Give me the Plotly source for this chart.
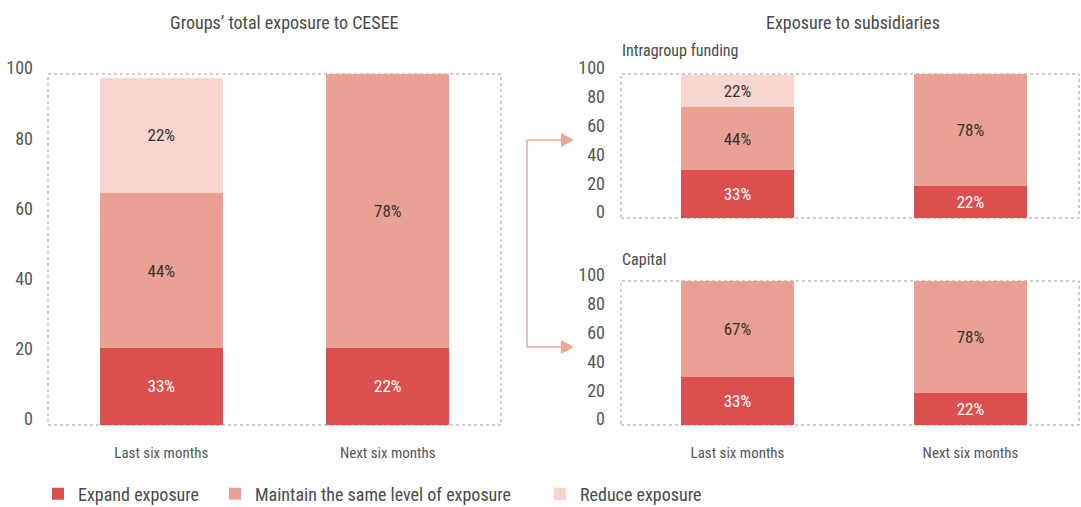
import plotly.graph_objects as go

W, H = 1081, 507

categories = ["Last six months", "Next six months"]
series_names = ["Expand exposure", "Maintain the same level of exposure", "Reduce exposure"]
colors = ["#DC4F4F", "#EAA194", "#F6D6CE"]
text_colors = ["#FFFFFF", "#333333", "#333333"]

# Groups' total exposure to CESEE (bar heights as drawn, labels as printed)
total_expand = [22, 22]
total_maintain = [44, 78]
total_reduce = [33, 0]
total_expand_lbl = ["33%", "22%"]
total_maintain_lbl = ["44%", "78%"]
total_reduce_lbl = ["22%", ""]

# Exposure to subsidiaries: intragroup funding
fund_expand = [33, 22]
fund_maintain = [44, 78]
fund_reduce = [22, 0]
fund_expand_lbl = ["33%", "22%"]
fund_maintain_lbl = ["44%", "78%"]
fund_reduce_lbl = ["22%", ""]

# Exposure to subsidiaries: capital
cap_expand = [33, 22]
cap_maintain = [67, 78]
cap_reduce = [0, 0]
cap_expand_lbl = ["33%", "22%"]
cap_maintain_lbl = ["67%", "78%"]
cap_reduce_lbl = ["", ""]

y_ticks = [0, 20, 40, 60, 80, 100]

FONT = "Roboto Condensed, Liberation Sans Narrow, DejaVu Sans Condensed, sans-serif"
GREY = "#4A4A4A"


def px(x, y):
    return x / W, 1 - y / H


fig = go.Figure()

legend_ids = ["legend", "legend2", "legend3"]
legend_text_x = [78, 255, 580]

panels = [
    ("x", "y", [total_expand, total_maintain, total_reduce],
     [total_expand_lbl, total_maintain_lbl, total_reduce_lbl], 0.543, True),
    ("x2", "y2", [fund_expand, fund_maintain, fund_reduce],
     [fund_expand_lbl, fund_maintain_lbl, fund_reduce_lbl], 0.485, False),
    ("x3", "y3", [cap_expand, cap_maintain, cap_reduce],
     [cap_expand_lbl, cap_maintain_lbl, cap_reduce_lbl], 0.485, False),
]

for xa, ya, vals, lbls, bw, show in panels:
    for i, name in enumerate(series_names):
        fig.add_trace(go.Bar(
            x=categories, y=vals[i], text=lbls[i], name=name,
            marker=dict(color=colors[i], line=dict(width=0)),
            width=bw, xaxis=xa, yaxis=ya,
            textposition="inside", insidetextanchor="middle", textangle=0,
            constraintext="none",
            textfont=dict(family=FONT, size=17, color=text_colors[i]),
            showlegend=show, legendgroup=name, legend=legend_ids[i],
            hoverinfo="skip",
        ))

axis_common = dict(showgrid=False, zeroline=False, showline=False, ticks="",
                   automargin=False, fixedrange=True)
ytick_font = dict(family=FONT, size=18, color="#555555")
xtick_font = dict(family=FONT, size=15, color="#555555")

L = px(48, 0)[0]
R = px(501, 0)[0]
RL = px(621, 0)[0]
RR = px(1079, 0)[0]

legend_layout = {}
for lid, tx in zip(legend_ids, legend_text_x):
    legend_layout[lid] = dict(
        orientation="h", x=px(tx - 40, 0)[0], y=px(0, 494)[1],
        xanchor="left", yanchor="middle",
        font=dict(family=FONT, size=18, color=GREY),
        bgcolor="rgba(0,0,0,0)", borderwidth=0)

fig.update_layout(
    width=W, height=H,
    margin=dict(l=0, r=0, t=0, b=0, autoexpand=False),
    paper_bgcolor="white", plot_bgcolor="rgba(0,0,0,0)",
    barmode="stack",
    font=dict(family=FONT, color=GREY),
    xaxis=dict(domain=[L, R], range=[-0.5, 1.5], type="category", tickfont=xtick_font,
               ticklabelstandoff=17, anchor="y", **axis_common),
    yaxis=dict(domain=[px(0, 425)[1], px(0, 74)[1]], range=[0, 100],
               tickvals=y_ticks, ticklabelshift=-6, ticklabelstandoff=14,
               tickfont=ytick_font, anchor="x", **axis_common),
    xaxis2=dict(domain=[RL, RR], range=[-0.5, 1.466], type="category",
                showticklabels=False, anchor="y2", **axis_common),
    yaxis2=dict(domain=[px(0, 218)[1], px(0, 74)[1]], range=[0, 100],
                tickvals=y_ticks, ticklabelshift=-6, ticklabelstandoff=15,
                tickfont=ytick_font, anchor="x2", **axis_common),
    xaxis3=dict(domain=[RL, RR], range=[-0.5, 1.466], type="category", tickfont=xtick_font,
                ticklabelstandoff=17, anchor="y3", **axis_common),
    yaxis3=dict(domain=[px(0, 425)[1], px(0, 281)[1]], range=[0, 100],
                tickvals=y_ticks, ticklabelshift=-6, ticklabelstandoff=15,
                tickfont=ytick_font, anchor="x3", **axis_common),
    showlegend=True,
    **legend_layout,
)

# dotted frames around plot areas
for xd, yd in [("x domain", "y domain"), ("x2 domain", "y2 domain"), ("x3 domain", "y3 domain")]:
    fig.add_shape(type="rect", xref=xd, yref=yd, x0=0, x1=1, y0=0, y1=1,
                  line=dict(color="#9A9A9A", width=1, dash="dot"), layer="below")

# titles
annos = [
    ("Groups\u2019 total exposure to CESEE", 284, 22, "center", 18),
    ("Exposure to subsidiaries", 853, 22, "center", 18),
    ("Intragroup funding", 620, 51, "left", 16),
    ("Capital", 620, 259, "left", 16),
]
for t, x, y, anc, sz in annos:
    ax, ay = px(x, y)
    fig.add_annotation(text=t, x=ax, y=ay, xref="paper", yref="paper",
                       xanchor=anc, yanchor="middle", showarrow=False,
                       font=dict(family=FONT, size=sz, color=GREY))

# connector arrows
ARC = "#EFA597"
x0, y0 = px(527, 140)
x1, y1 = px(527, 347)
xe, _ = px(563, 0)
fig.add_shape(type="line", xref="paper", yref="paper", x0=x0, y0=y0, x1=x1, y1=y1,
              line=dict(color=ARC, width=1.5))
for yy in (140, 347):
    _, yp = px(0, yy)
    fig.add_shape(type="line", xref="paper", yref="paper", x0=x0, y0=yp, x1=xe, y1=yp,
                  line=dict(color=ARC, width=1.5))
    a = px(561, yy - 7)
    b = px(574, yy)
    c = px(561, yy + 7)
    fig.add_shape(type="path", xref="paper", yref="paper",
                  path=f"M {a[0]},{a[1]} L {b[0]},{b[1]} L {c[0]},{c[1]} Z",
                  fillcolor=ARC, line=dict(color=ARC, width=0))

fig.write_html("out.html", config={"displayModeBar": False},
               post_script="document.body.style.margin='0';")
